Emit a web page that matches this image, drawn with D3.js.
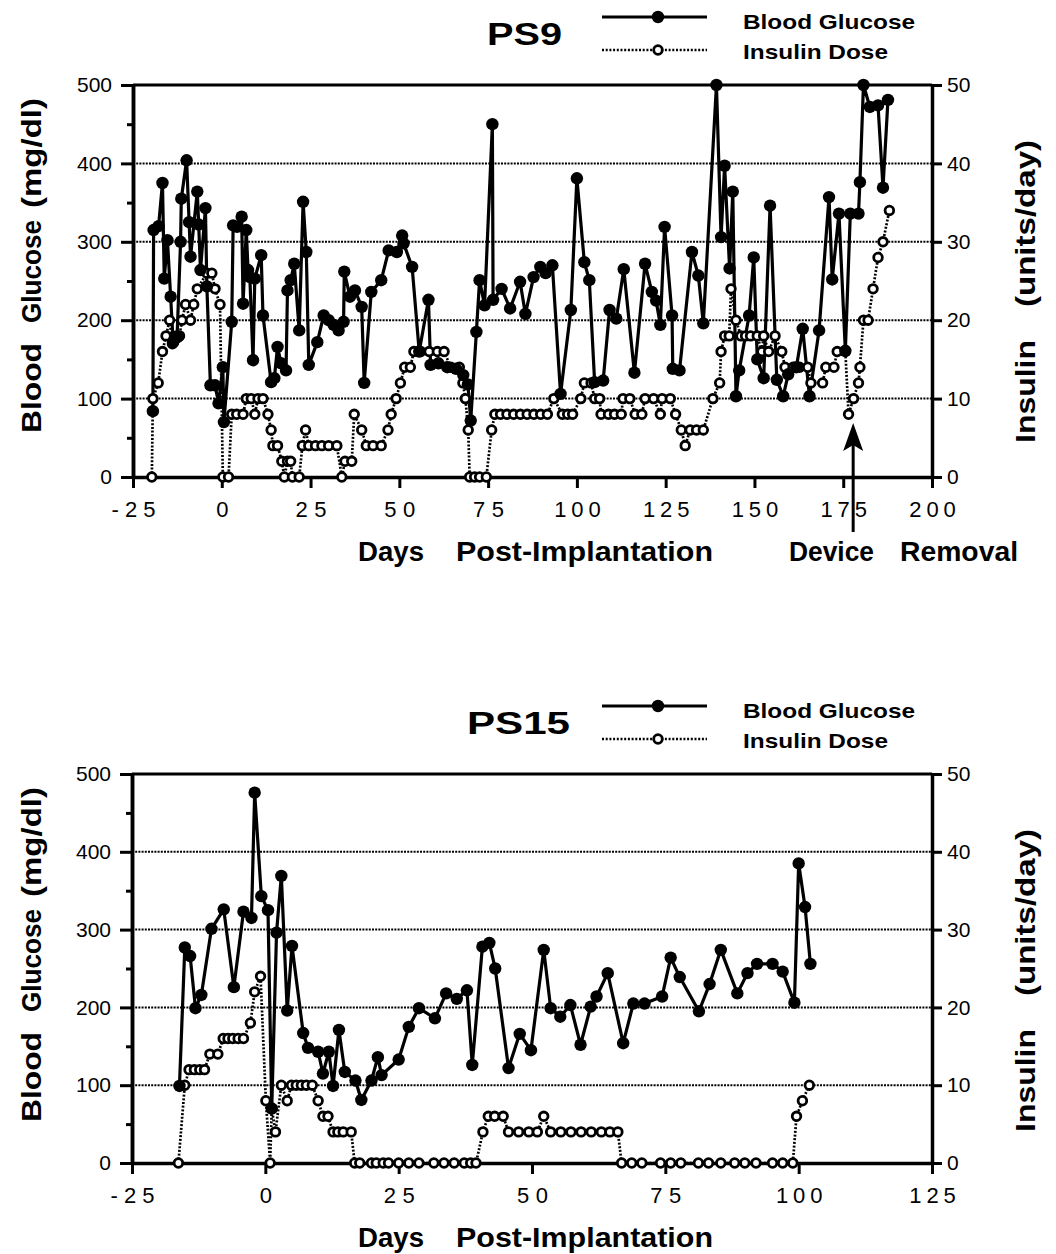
<!DOCTYPE html>
<html><head><meta charset="utf-8">
<script src="https://cdn.jsdelivr.net/npm/d3@7/dist/d3.min.js"></script>
<style>
html,body{margin:0;padding:0;background:#fff;}
svg{display:block;}
text{font-family:"Liberation Sans",Arial,Helvetica,sans-serif;fill:#000;}
</style></head>
<body>
<script>
// ---------- DATA ----------
const glucoseTicks = [0,100,200,300,400,500];
const glucoseMinorTicks = [50,150,250,350,450];
const insulinTicks = [0,10,20,30,40,50];
const ps9DayTicks = [-25,0,25,50,75,100,125,150,175,200];
const ps15DayTicks = [-25,0,25,50,75,100,125];
const ps9RemovalDay = 177.8;

// [day, mg/dl]
const ps9Glucose = [
[-19.4,84],[-19.2,315],[-17.8,320],[-16.7,375],[-16.2,253],[-15.3,302],[-14.4,230],[-13.7,172],
[-12.6,178],[-11.6,300],[-11.4,355],[-9.9,404],[-9.2,325],[-8.8,281],[-6.9,364],[-6.5,322],
[-6.0,264],[-4.6,343],[-4.2,243],[-3.2,117],[-1.9,117],[-0.9,94],[0.3,140],[0.6,70],
[2.8,198],[3.2,321],[4.3,319],[5.6,332],[6.0,221],[6.9,315],[7.4,264],[7.9,255],[8.8,149],
[9.3,253],[11.1,283],[11.6,206],[13.9,121],[14.8,126],[15.7,166],[16.7,145],[18.1,136],
[18.5,238],[19.4,251],[20.4,272],[21.8,187],[22.9,351],[23.8,287],[24.5,143],[26.9,172],
[28.7,206],[30.1,200],[31.5,194],[32.9,187],[34.3,198],[34.5,262],[36.1,230],[37.5,238],
[39.4,217],[40.1,120],[42.1,236],[44.9,251],[47.0,289],[49.3,287],[50.8,308],[51.2,298],
[53.6,268],[55.6,160],[58.2,226],[58.8,143],[61.0,145],[63.5,140],[66.0,138],[68.0,130],
[69.3,118],[70.1,72],[71.7,185],[72.6,251],[74.0,219],[76.2,450],[76.4,226],[78.8,240],
[81.2,215],[84.0,249],[85.5,208],[87.8,255],[89.7,268],[91.2,260],[93.1,270],[95.4,106],
[98.3,213],[100.0,381],[102.1,274],[103.5,251],[105.0,121],[107.4,123],[109.2,213],[111.1,202],
[113.2,265],[116.2,133],[119.2,272],[121.1,236],[122.3,225],[123.5,194],[124.7,319],[126.8,206],
[127.0,138],[128.9,136],[132.4,287],[134.2,257],[135.6,196],[139.3,500],[140.6,306],[141.6,397],
[143.0,266],[143.9,364],[144.8,103],[145.7,136],[148.5,206],[149.8,280],[150.8,150],[152.6,126],
[154.4,346],[156.3,124],[158.1,103],[159.5,131],[161.8,140],[163.6,189],[165.5,103],[168.2,187],
[171.0,357],[171.9,252],[173.8,336],[175.6,161],[177.0,336],[179.3,336],[179.7,376],[180.7,500],
[182.5,472],[184.8,474],[186.2,369],[187.6,481]
];

// [day, units/day]
const ps9Insulin = [
[-19.7,0],[-19.4,10],[-17.9,12],[-16.7,16],[-15.7,18],[-14.7,20],[-13.9,17],[-12.7,18],
[-11.9,18],[-11.2,20],[-10.2,22],[-8.8,20],[-7.9,22],[-6.9,24],[-4.2,26],[-2.8,26],[-1.9,24],
[-0.5,22],[0.3,0],[1.9,0],[2.8,8],[4.2,8],[6.0,8],[6.9,10],[8.3,10],[9.3,8],[10.2,10],
[11.6,10],[13.0,8],[13.9,6],[14.4,4],[15.7,4],[16.9,2],[17.6,0],[18.5,2],[19.4,2],[19.9,0],
[21.8,0],[22.7,4],[23.6,6],[24.5,4],[26.4,4],[28.2,4],[30.1,4],[32.4,4],[33.8,0],[34.7,2],
[36.6,2],[37.3,8],[39.4,6],[40.7,4],[42.6,4],[44.9,4],[46.8,6],[47.7,8],[49.1,10],[50.3,12],
[51.5,14],[53.1,14],[54.1,16],[56.0,16],[58.4,16],[60.7,16],[62.6,16],[64.5,14],[66.9,14],
[67.9,12],[68.6,10],[69.4,6],[69.8,0],[71.2,0],[72.6,0],[74.5,0],[76.0,6],[76.9,8],[78.5,8],
[80.3,8],[82.2,8],[84.1,8],[86.0,8],[87.9,8],[89.8,8],[91.7,8],[93.5,10],[95.9,8],[97.4,8],
[98.8,8],[101.1,10],[102.1,12],[104.0,12],[105.0,10],[106.4,10],[106.8,8],[108.9,8],[110.6,8],
[112.5,8],[113.0,10],[114.9,10],[116.4,8],[118.3,8],[119.2,10],[121.6,10],[123.5,8],[124.0,10],
[126.3,10],[127.8,8],[129.4,6],[130.5,4],[131.9,6],[133.7,6],[135.6,6],[138.3,10],[140.2,12],
[140.6,16],[141.6,18],[142.9,18],[143.4,24],[144.8,20],[146.2,18],[147.5,18],[148.9,18],
[150.8,18],[152.1,16],[152.6,18],[154.0,16],[155.8,18],[157.7,16],[158.6,14],[160.9,14],
[162.7,14],[165.0,14],[165.9,12],[169.2,12],[170.1,14],[172.4,14],[173.3,16],[175.6,16],
[176.5,8],[177.9,10],[179.3,12],[179.7,14],[180.7,20],[182.0,20],[183.4,24],[184.8,28],
[186.2,30],[188.0,34]
];

const ps15Glucose = [
[-16.1,99],[-15.1,277],[-14.1,266],[-13.1,199],[-12.0,216],[-10.1,301],[-7.8,326],[-5.9,226],
[-4.1,323],[-2.6,315],[-2.0,476],[-0.75,343],[0.5,325],[1.2,70],[2.1,296],[3.0,369],[4.1,196],
[5.0,279],[7.1,167],[8.0,148],[9.9,143],[10.8,115],[11.9,143],[12.7,99],[13.8,171],[14.9,117],
[16.9,106],[18.0,81],[19.9,106],[21.1,136],[21.8,113],[25.0,133],[26.9,175],[28.8,199],
[31.8,186],[33.9,218],[35.9,211],[37.8,222],[38.8,126],[40.7,278],[42.0,283],[43.1,250],
[45.6,122],[47.7,166],[49.8,145],[52.2,274],[53.5,199],[55.3,188],[57.2,203],[59.1,152],
[61.0,201],[62.1,214],[64.2,244],[67.1,154],[69.0,205],[71.1,205],[74.4,214],[76.0,264],
[77.7,239],[81.3,195],[83.3,230],[85.4,274],[88.5,218],[90.4,244],[92.2,256],[95.1,256],
[97.0,246],[99.2,206],[100.0,385],[101.2,329],[102.2,256]
];

const ps15Insulin = [
[-16.3,0],[-15.1,10],[-14.3,12],[-13.3,12],[-12.3,12],[-11.4,12],[-10.4,14],[-8.9,14],[-7.9,16],
[-7.0,16],[-6.1,16],[-5.1,16],[-4.1,16],[-2.8,18],[-2.0,22],[-0.9,24],[0.1,8],[0.9,0],[1.2,7],
[1.9,4],[3.0,10],[4.1,8],[4.9,10],[5.8,10],[6.75,10],[7.7,10],[8.8,10],[9.9,8],[10.8,6],
[11.75,6],[12.7,4],[13.6,4],[14.6,4],[16.1,4],[16.75,0],[17.7,0],[19.9,0],[20.8,0],[22.1,0],
[23.1,0],[25.0,0],[26.9,0],[28.8,0],[31.6,0],[33.5,0],[35.4,0],[37.3,0],[38.5,0],[39.5,0],
[40.8,4],[41.8,6],[43.0,6],[44.6,6],[45.6,4],[47.5,4],[49.4,4],[51.0,4],[52.2,6],[53.5,4],
[55.4,4],[57.3,4],[59.2,4],[61.1,4],[63.0,4],[64.6,4],[66.1,4],[66.8,0],[68.7,0],[70.6,0],
[74.1,0],[76.0,0],[77.9,0],[81.2,0],[83.1,0],[85.4,0],[88.0,0],[89.9,0],[92.0,0],[95.1,0],
[97.0,0],[98.9,0],[99.6,6],[100.7,8],[102.0,10]
];

// ---------- DRAW ----------
const W = 1056, H = 1254;
const svg = d3.select("body").append("svg").attr("width", W).attr("height", H);
svg.append("rect").attr("width", W).attr("height", H).attr("fill", "#fff");

function fitText(sel, x, y, str, size, len, opts = {}) {
  const t = sel.append("text").attr("x", x).attr("y", y).text(str)
    .attr("font-size", size).attr("font-weight", opts.weight || "bold");
  if (len) t.attr("textLength", len).attr("lengthAdjust", "spacingAndGlyphs");
  if (opts.anchor) t.attr("text-anchor", opts.anchor);
  return t;
}

function panel(cfg) {
  const g = svg.append("g");
  const x = d3.scaleLinear().domain(cfg.xDomain).range([cfg.left, cfg.right]);
  const y = d3.scaleLinear().domain([0, 500]).range([cfg.bottom, cfg.top]);
  const yi = d3.scaleLinear().domain([0, 50]).range([cfg.bottom, cfg.top]);

  // gridlines
  g.append("g").selectAll("line").data(glucoseTicks.filter(v => v > 0 && v < 500)).join("line")
    .attr("x1", cfg.left).attr("x2", cfg.right)
    .attr("y1", d => y(d)).attr("y2", d => y(d))
    .attr("stroke", "#000").attr("stroke-width", 2).attr("stroke-dasharray", "2,1.2");
  // top frame
  g.append("line").attr("x1", cfg.left).attr("x2", cfg.right)
    .attr("y1", y(500)).attr("y2", y(500)).attr("stroke", "#000").attr("stroke-width", 3);

  const tickFont = "Liberation Sans, Arial, sans-serif";
  // left axis
  const la = g.append("g").attr("transform", `translate(${cfg.left},0)`)
    .call(d3.axisLeft(y).tickValues(glucoseTicks).tickSize(12).tickSizeOuter(0).tickPadding(9));
  la.append("g").call(d3.axisLeft(y).tickValues(glucoseMinorTicks).tickSize(6).tickSizeOuter(0).tickFormat(""));
  la.selectAll("path").attr("stroke-width", 3.5);
  la.selectAll("line").attr("stroke-width", 3);
  la.selectAll("text").attr("font-size", 21).attr("font-family", tickFont);

  // right axis
  const ra = g.append("g").attr("transform", `translate(${cfg.right},0)`)
    .call(d3.axisRight(yi).tickValues(insulinTicks).tickSize(10).tickSizeOuter(0).tickPadding(5));
  ra.selectAll("path").attr("stroke-width", 3.5);
  ra.selectAll("line").attr("stroke-width", 3);
  ra.selectAll("text").attr("font-size", 21).attr("font-family", tickFont);

  // bottom axis
  const ba = g.append("g").attr("transform", `translate(0,${cfg.bottom})`)
    .call(d3.axisBottom(x).tickValues(cfg.xTicks).tickSize(11).tickSizeOuter(0).tickPadding(13)
      .tickFormat(d => String(d)));
  ba.selectAll("path").attr("stroke-width", 3.5);
  ba.selectAll("line").attr("stroke-width", 3);
  ba.selectAll("text").attr("font-size", 22).attr("font-family", tickFont)
    .each(function(d) {
      const s = String(d);
      if (s.length > 1) {
        const digits = s.replace("-", "").length;
        d3.select(this).attr("textLength", digits * 15.5 + (s[0] === "-" ? 13 : 0))
          .attr("lengthAdjust", "spacing");
      }
    });

  // insulin series (dotted)
  const lineI = d3.line().x(d => x(d[0])).y(d => yi(d[1]));
  g.append("path").datum(cfg.insulin).attr("d", lineI).attr("fill", "none")
    .attr("stroke", "#000").attr("stroke-width", 2.7).attr("stroke-dasharray", "2,1.7");
  // glucose series (solid)
  const lineG = d3.line().x(d => x(d[0])).y(d => y(d[1]));
  g.append("path").datum(cfg.glucose).attr("d", lineG).attr("fill", "none")
    .attr("stroke", "#000").attr("stroke-width", 3.2).attr("stroke-linejoin", "round");
  g.append("g").selectAll("circle").data(cfg.insulin).join("circle")
    .attr("cx", d => x(d[0])).attr("cy", d => yi(d[1])).attr("r", 4.3)
    .attr("fill", "#fff").attr("stroke", "#000").attr("stroke-width", 2.8);
  g.append("g").selectAll("circle").data(cfg.glucose).join("circle")
    .attr("cx", d => x(d[0])).attr("cy", d => y(d[1])).attr("r", 6.2).attr("fill", "#000");

  // title and legend
  fitText(g, cfg.titleX, cfg.top - 40, cfg.title, 31, cfg.titleLen);
  const ly1 = cfg.top - 68, ly2 = cfg.top - 35;
  g.append("line").attr("x1", 602).attr("x2", 707).attr("y1", ly1).attr("y2", ly1)
    .attr("stroke", "#000").attr("stroke-width", 3);
  g.append("circle").attr("cx", 658).attr("cy", ly1).attr("r", 6.2).attr("fill", "#000");
  g.append("line").attr("x1", 602).attr("x2", 707).attr("y1", ly2).attr("y2", ly2)
    .attr("stroke", "#000").attr("stroke-width", 2.7).attr("stroke-dasharray", "2,1.7");
  g.append("circle").attr("cx", 658).attr("cy", ly2).attr("r", 4.3)
    .attr("fill", "#fff").attr("stroke", "#000").attr("stroke-width", 2.8);
  fitText(g, 743, cfg.top - 56, "Blood Glucose", 21, 172);
  fitText(g, 743, cfg.top - 26, "Insulin Dose", 21, 145);

  // axis titles
  fitText(g, 358, cfg.bottom + 84, "Days", 28, 66);
  fitText(g, 456, cfg.bottom + 84, "Post-Implantation", 28, 257);

  const rotL = g.append("g").attr("transform", "rotate(-90)");
  fitText(rotL, -(cfg.top + 348), 41, "Blood", 28, 90);
  fitText(rotL, -(cfg.top + 238), 41, "Glucose", 28, 103);
  fitText(rotL, -(cfg.top + 123), 41, "(mg/dl)", 28, 110);

  const rotR = g.append("g").attr("transform", "rotate(-90)");
  fitText(rotR, -(cfg.top + 358), 1035, "Insulin", 28, 103);
  fitText(rotR, -(cfg.top + 222), 1035, "(units/day)", 28, 167);

  return {g, x, y};
}

const p1 = panel({
  top: 85, bottom: 477, left: 133, right: 932, xDomain: [-25, 200], xTicks: ps9DayTicks,
  glucose: ps9Glucose, insulin: ps9Insulin, title: "PS9", titleX: 487, titleLen: 75
});
panel({
  top: 774, bottom: 1163, left: 132, right: 932, xDomain: [-25, 125], xTicks: ps15DayTicks,
  glucose: ps15Glucose, insulin: ps15Insulin, title: "PS15", titleX: 467, titleLen: 103
});

// device removal arrow + label (PS9)
const ax = p1.x(ps9RemovalDay);
p1.g.append("line").attr("x1", ax).attr("x2", ax).attr("y1", 445).attr("y2", 532)
  .attr("stroke", "#000").attr("stroke-width", 3);
p1.g.append("path").attr("d", `M${ax},423 L${ax + 10},451 L${ax},445 L${ax - 10},451 Z`).attr("fill", "#000");
fitText(p1.g, 789, 561, "Device", 28, 85);
fitText(p1.g, 900, 561, "Removal", 28, 118);
</script>
</body></html>
